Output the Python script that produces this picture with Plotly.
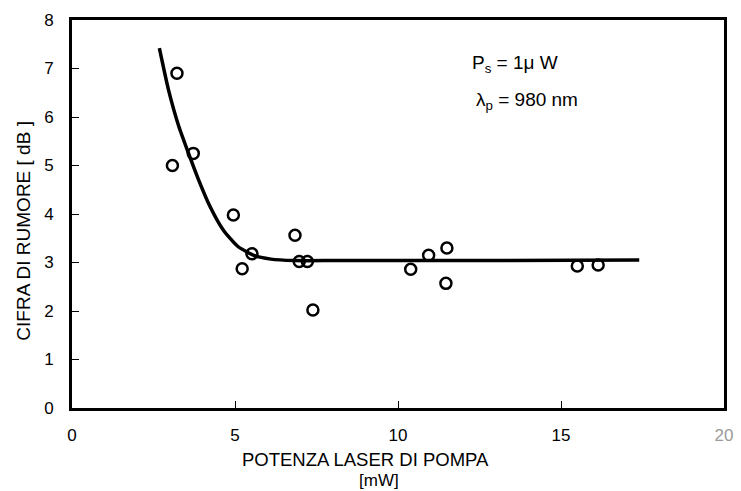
import plotly.graph_objects as go

# Measured points
pump_mw = [3.08, 3.22, 3.72, 4.95, 5.22, 5.52, 6.84, 6.97, 7.22, 7.39, 10.39, 10.94, 11.50, 11.47, 15.50, 16.14]
noise_db = [5.00, 6.90, 5.25, 3.98, 2.87, 3.18, 3.56, 3.02, 3.02, 2.02, 2.86, 3.15, 3.30, 2.57, 2.93, 2.95]

# Fitted curve
fit_x = [2.68, 2.96, 3.27, 3.57, 3.88, 4.23, 4.64, 5.09, 5.60, 6.10, 6.81, 8.13, 12.0, 17.40]
fit_y = [7.42, 6.56, 5.82, 5.26, 4.71, 4.16, 3.67, 3.33, 3.14, 3.07, 3.04, 3.04, 3.04, 3.05]

x_ticks = [0, 5, 10, 15, 20]
x_tick_text = ["0", "5", "10", "15", '<span style="color:#9a9a9a">20</span>']
y_ticks = [0, 1, 2, 3, 4, 5, 6, 7, 8]

FONT = "Liberation Sans, Arial, sans-serif"

fig = go.Figure()
fig.add_trace(go.Scatter(x=fit_x, y=fit_y, mode="lines", line=dict(color="black", width=3.5, shape="spline", smoothing=0.6),
                         hoverinfo="skip", showlegend=False))
fig.add_trace(go.Scatter(x=pump_mw, y=noise_db, mode="markers",
                         marker=dict(symbol="circle-open", size=11, color="black", line=dict(width=2.5, color="black")),
                         showlegend=False))

axis_common = dict(showline=True, mirror=True, linecolor="black", linewidth=3, ticks="inside", ticklen=7,
                   tickwidth=1.2, tickcolor="black", showgrid=False, zeroline=False,
                   tickfont=dict(family=FONT, size=17, color="black"))

fig.update_layout(
    width=741, height=491,
    margin=dict(l=72, r=8, t=20, b=83),
    paper_bgcolor="white", plot_bgcolor="white",
    xaxis=dict(range=[0, 20], tickvals=x_ticks, ticktext=x_tick_text, ticklabelstandoff=10, **axis_common),
    yaxis=dict(range=[0, 8], tickvals=y_ticks, ticklabelstandoff=12, **axis_common),
    font=dict(family=FONT, color="black"),
)

fig.add_annotation(text="POTENZA LASER DI POMPA", xref="paper", yref="paper", x=(370 - 72) / 661, y=-(459 - 408) / 388,
                   showarrow=False, font=dict(size=18.5, family=FONT), xanchor="center", yanchor="middle")
fig.add_annotation(text="[mW]", xref="paper", yref="paper", x=(383 - 72) / 661, y=-(480 - 408) / 388,
                   showarrow=False, font=dict(size=17, family=FONT), xanchor="center", yanchor="middle")
fig.add_annotation(text="CIFRA DI RUMORE [ dB ]", xref="paper", yref="paper", x=-(72 - 22) / 661, y=(408 - 231) / 388,
                   textangle=-90, showarrow=False, font=dict(size=19, family=FONT), xanchor="center", yanchor="middle")
fig.add_annotation(text="P<sub>s</sub> = 1\u03bc W", xref="paper", yref="paper", x=(476 - 72) / 661, y=(408 - 64) / 388,
                   showarrow=False, font=dict(size=19, family=FONT), xanchor="left", yanchor="middle")
fig.add_annotation(text="\u03bb<sub>p</sub> = 980 nm", xref="paper", yref="paper", x=(480 - 72) / 661, y=(408 - 101) / 388,
                   showarrow=False, font=dict(size=19, family=FONT), xanchor="left", yanchor="middle")

fig.write_html("out.html")
